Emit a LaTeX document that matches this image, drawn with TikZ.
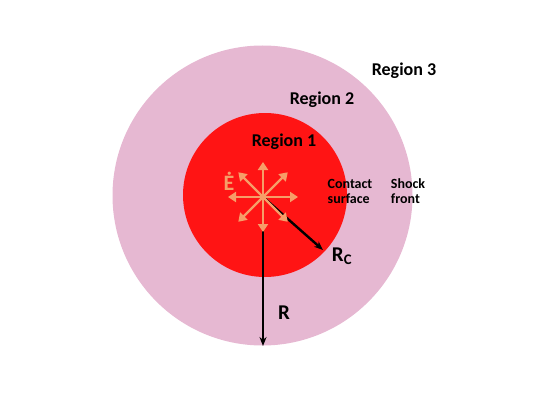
\documentclass[tikz,border=0pt]{standalone}
\usepackage{fontspec}
\setmainfont{Carlito}
\usetikzlibrary{arrows.meta,calc}
\definecolor{shockpink}{RGB}{230,184,210}
\definecolor{hotred}{RGB}{255,20,20}
\definecolor{spark}{RGB}{246,158,104}
\tikzset{
  zone/.style={circle,fill=#1,inner sep=0pt},
  lbl/.style={font=\fontsize{18}{20}\selectfont\bfseries,text=black},
  small lbl/.style={font=\fontsize{14}{15}\selectfont\bfseries,align=left,text=black},
  radius arrow/.style={-{Stealth[length=9pt,width=7pt]},line width=2.4pt,draw=black},
  spark arrow/.style={-{Triangle[length=8pt,width=10pt]},line width=2.2pt,draw=spark},
}
\begin{document}
\begin{tikzpicture}[x=1pt,y=-1pt]
        \useasboundingbox (0,0) rectangle (545,409);
        \node[zone=shockpink,minimum size=300pt] (shock) at (262.5,195.5) {};
        \node[zone=hotred,minimum size=164pt] (contact) at (265,195) {};
        \coordinate (src) at (263,197);
        \coordinate (rtail) at (263,228);
        \coordinate (rhead) at (263,346);
        \coordinate (rchead) at (323,250);
        % radii
        \draw[radius arrow] (rtail) -- (rhead);
        \draw[radius arrow] (src) -- (rchead);
        % energy injection
        \foreach \a in {0,45,...,315}
          \draw[spark arrow] (src) -- ($(src)+(\a:35)$);
        \node[font=\fontsize{22}{24}\selectfont\bfseries,text=spark] (edot) at (229,181) {\.E};
        \node[font=\fontsize{21}{22}\selectfont\bfseries] (rlbl) at (284,313) {R};
        \node[font=\fontsize{21}{22}\selectfont\bfseries] (rclbl) at (342,256) {R\textsubscript{C}};
        \node[lbl] (reg1) at (284,142) {Region 1};
        \node[lbl] (reg2) at (322,100) {Region 2};
        \node[lbl] (reg3) at (404,71) {Region 3};
        \node[small lbl] (cs) at (350,191) {Contact\\surface};
        \node[small lbl] (sf) at (408,191) {Shock\\front};
\end{tikzpicture}
\end{document}
